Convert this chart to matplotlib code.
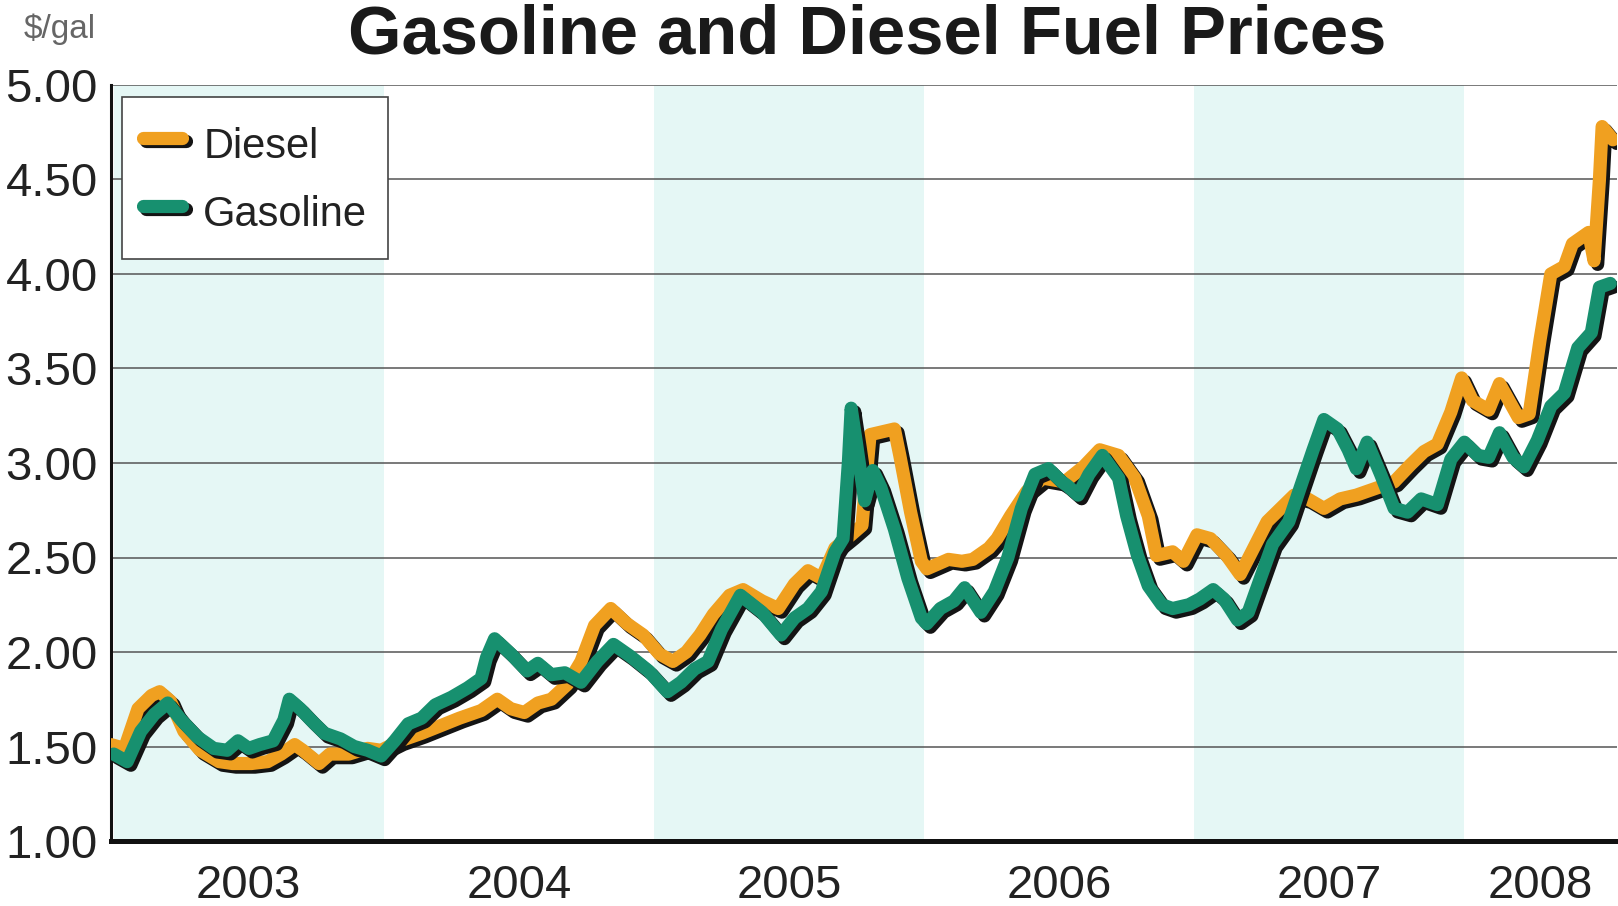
import numpy as np
import matplotlib.pyplot as plt
import matplotlib.patheffects as pe

# Retail prices ($/gal), dates as decimal years
diesel_t = [2002.99, 2003.04, 2003.09, 2003.14, 2003.17, 2003.21, 2003.26, 2003.32, 2003.39, 2003.44,
            2003.51, 2003.57, 2003.62, 2003.67, 2003.70, 2003.76, 2003.80, 2003.87, 2003.94, 2003.99,
            2004.06, 2004.14, 2004.21, 2004.28, 2004.36, 2004.42, 2004.47, 2004.52, 2004.57, 2004.62,
            2004.68, 2004.73, 2004.78, 2004.84, 2004.90, 2004.96,
            2005.02, 2005.07, 2005.12, 2005.17, 2005.22, 2005.28, 2005.33, 2005.40, 2005.46, 2005.52,
            2005.57, 2005.62, 2005.67, 2005.73, 2005.77, 2005.80, 2005.86, 2005.89, 2005.91, 2005.95, 2005.99,
            2006.01, 2006.09, 2006.14, 2006.18, 2006.24, 2006.27, 2006.32, 2006.38, 2006.44, 2006.52,
            2006.59, 2006.65, 2006.72, 2006.78, 2006.83, 2006.86, 2006.92, 2006.96,
            2007.01, 2007.06, 2007.12, 2007.17, 2007.22, 2007.27, 2007.32, 2007.37, 2007.42, 2007.48,
            2007.54, 2007.60, 2007.66, 2007.74, 2007.80, 2007.85, 2007.90, 2007.95, 2007.99,
            2008.03, 2008.09, 2008.13, 2008.20, 2008.24, 2008.28, 2008.32, 2008.37, 2008.40, 2008.46,
            2008.48, 2008.50, 2008.51, 2008.55]
diesel_p = [1.51, 1.49, 1.70, 1.77, 1.79, 1.74, 1.58, 1.48, 1.42, 1.41,
            1.41, 1.42, 1.46, 1.51, 1.48, 1.41, 1.46, 1.46, 1.49, 1.48,
            1.53, 1.57, 1.61, 1.65, 1.69, 1.75, 1.70, 1.68, 1.73, 1.75,
            1.83, 1.95, 2.14, 2.23, 2.15, 2.09,
            1.99, 1.95, 2.00, 2.09, 2.20, 2.30, 2.33, 2.27, 2.23, 2.36,
            2.43, 2.39, 2.55, 2.62, 2.67, 3.15, 3.17, 3.18, 3.04, 2.74, 2.48,
            2.44, 2.49, 2.48, 2.49, 2.55, 2.60, 2.72, 2.85, 2.92, 2.90,
            2.98, 3.07, 3.04, 2.92, 2.72, 2.51, 2.53, 2.48,
            2.62, 2.60, 2.51, 2.41, 2.55, 2.69, 2.76, 2.83, 2.81, 2.76,
            2.81, 2.83, 2.86, 2.90, 2.99, 3.06, 3.10, 3.27, 3.45,
            3.33, 3.28, 3.42, 3.24, 3.26, 3.65, 4.00, 4.04, 4.16, 4.22,
            4.07, 4.50, 4.78, 4.71]

gas_t = [2003.00, 2003.05, 2003.10, 2003.15, 2003.20, 2003.25, 2003.31, 2003.37, 2003.42, 2003.46, 2003.50,
         2003.54, 2003.59, 2003.63, 2003.65, 2003.69, 2003.73, 2003.78, 2003.84, 2003.89, 2003.94, 2003.99,
         2004.04, 2004.09, 2004.14, 2004.19, 2004.25, 2004.31, 2004.36, 2004.38, 2004.41, 2004.47,
         2004.53, 2004.57, 2004.62, 2004.67, 2004.73, 2004.79, 2004.85, 2004.91, 2004.98,
         2005.05, 2005.10, 2005.15, 2005.20, 2005.25, 2005.32, 2005.40, 2005.47, 2005.52, 2005.57, 2005.62,
         2005.67, 2005.70, 2005.72, 2005.73, 2005.75, 2005.78, 2005.81, 2005.84, 2005.89, 2005.94, 2005.99,
         2006.01, 2006.06, 2006.11, 2006.15, 2006.21, 2006.26, 2006.31, 2006.36, 2006.41, 2006.46, 2006.51,
         2006.53, 2006.57, 2006.61, 2006.66, 2006.72, 2006.75, 2006.79, 2006.83, 2006.88, 2006.92, 2006.98,
         2007.02, 2007.07, 2007.11, 2007.16, 2007.20, 2007.25, 2007.29, 2007.35, 2007.39, 2007.44, 2007.48,
         2007.53, 2007.57, 2007.60, 2007.64, 2007.69, 2007.74, 2007.79, 2007.84, 2007.90, 2007.95, 2008.00,
         2008.05, 2008.09, 2008.13, 2008.18, 2008.22, 2008.27, 2008.32, 2008.37, 2008.42, 2008.47,
         2008.50, 2008.54]
gas_p = [1.46, 1.42, 1.58, 1.67, 1.73, 1.64, 1.55, 1.49, 1.48, 1.53, 1.49,
         1.51, 1.53, 1.64, 1.75, 1.70, 1.64, 1.57, 1.54, 1.50, 1.48, 1.45,
         1.53, 1.62, 1.65, 1.72, 1.76, 1.81, 1.86, 1.97, 2.07, 1.99,
         1.90, 1.94, 1.88, 1.89, 1.84, 1.95, 2.04, 1.98, 1.90,
         1.79, 1.84, 1.91, 1.95, 2.12, 2.30, 2.21, 2.09, 2.18, 2.23, 2.32,
         2.53, 2.60, 3.01, 3.29, 3.10, 2.80, 2.96, 2.87, 2.65, 2.39, 2.18,
         2.15, 2.23, 2.27, 2.34, 2.21, 2.32, 2.50, 2.76, 2.94, 2.97, 2.90,
         2.88, 2.83, 2.94, 3.04, 2.92, 2.72, 2.51, 2.35, 2.25, 2.23, 2.25,
         2.28, 2.33, 2.28, 2.17, 2.21, 2.41, 2.57, 2.69, 2.86, 3.07, 3.23,
         3.18, 3.07, 2.97, 3.11, 2.94, 2.76, 2.74, 2.81, 2.78, 3.02, 3.11,
         3.04, 3.03, 3.16, 3.03, 2.98, 3.12, 3.30, 3.37, 3.61, 3.69,
         3.93, 3.95]

years = [2003, 2004, 2005, 2006, 2007, 2008]
shaded_years = [2003, 2005, 2007]
price_ticks = [1.0, 1.5, 2.0, 2.5, 3.0, 3.5, 4.0, 4.5, 5.0]
x_start, x_end = 2002.99, 2008.565

# Colours
ORANGE = '#f0a020'
GREEN = '#17906f'
BAND = '#e5f7f5'
INK = '#222222'

plt.rcParams['font.family'] = ['Liberation Sans', 'DejaVu Sans']

W, H = 1618, 906
fig = plt.figure(figsize=(W / 100, H / 100), dpi=100)
ax = fig.add_axes([111 / W, 1 - 841 / H, 1506 / W, 756 / H])

# Shaded alternate years
for yr in shaded_years:
    ax.axvspan(yr, yr + 1, color=BAND, lw=0, zorder=0)

# Drop-shadowed thick lines
shadow = [pe.SimpleLineShadow(offset=(2.6, -2.6), shadow_color='#141414', alpha=1.0), pe.Normal()]
ax.plot(diesel_t, diesel_p, color=ORANGE, lw=9.5, solid_joinstyle='round',
        solid_capstyle='round', path_effects=shadow, label='Diesel', zorder=3)
ax.plot(gas_t, gas_p, color=GREEN, lw=9.5, solid_joinstyle='round',
        solid_capstyle='round', path_effects=shadow, label='Gasoline', zorder=4)

# Axes
ax.set_xlim(x_start, x_end)
ax.set_ylim(price_ticks[0], price_ticks[-1])
ax.set_yticks(price_ticks, labels=[f'{v:.2f}' for v in price_ticks])
tick_pos = [y + 0.5 for y in years[:-1]] + [(years[-1] + x_end) / 2]
ax.set_xticks(tick_pos, labels=[str(y) for y in years])
ax.yaxis.grid(True, color='#555555', lw=1.1)
ax.set_axisbelow(True)
ax.tick_params(axis='both', length=0, labelsize=34, colors=INK)
ax.tick_params(axis='x', pad=16.5)
ax.tick_params(axis='y', pad=9.5)
ax.set_facecolor('white')
for s in ['top', 'right']:
    ax.spines[s].set_visible(False)
ax.spines['left'].set_linewidth(2.2)
ax.spines['left'].set_color('#111111')
ax.spines['bottom'].set_linewidth(3.6)
ax.spines['bottom'].set_color('#111111')

# Legend
leg = ax.legend(loc='upper left', bbox_to_anchor=(122 / W, 1 - 97 / H),
                bbox_transform=fig.transFigure, fontsize=30, frameon=True,
                fancybox=False, edgecolor='#444444', framealpha=1,
                borderpad=0.5, labelspacing=0.37, handlelength=0.95,
                handleheight=1.56, handletextpad=0.5, borderaxespad=0)
leg.get_frame().set_linewidth(1.2)
for t in leg.get_texts():
    t.set_color(INK)

# Titles
fig.text(867 / W, 1 - 54 / H, 'Gasoline and Diesel Fuel Prices', ha='center',
         va='baseline', fontsize=49.5, fontweight='bold', color='#1a1a1a')
fig.text(60 / W, 1 - 29 / H, '$/gal', ha='center', va='center',
         fontsize=24, color='#666666')

fig.savefig('out.png', dpi=100, facecolor='white')
